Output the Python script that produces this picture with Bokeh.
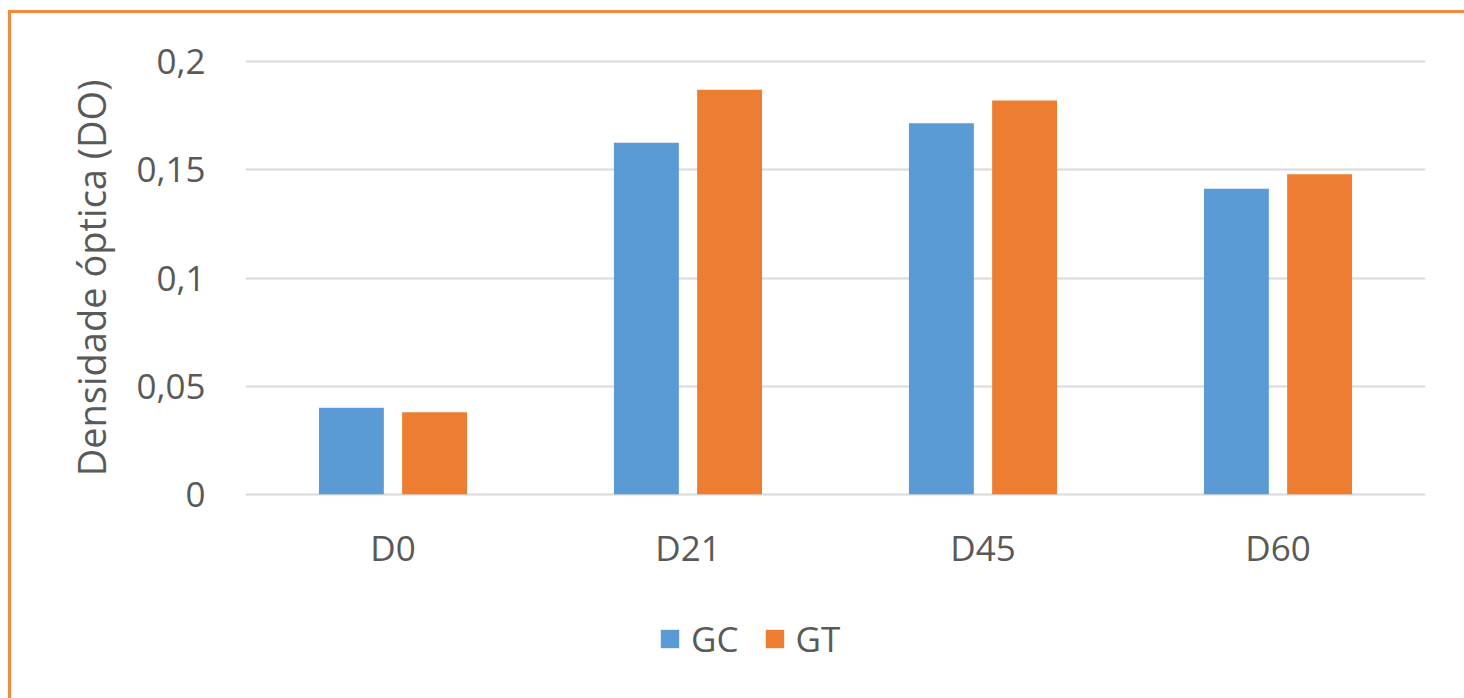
from bokeh.plotting import figure
from bokeh.layouts import column
from bokeh.models import FactorRange, Range1d, FixedTicker, CustomJSTickFormatter, ColumnDataSource, Legend, LegendItem
from bokeh.transform import dodge
from bokeh.embed import file_html
from bokeh.resources import INLINE

categories = ["D0", "D21", "D45", "D60"]
gc_values = [0.040, 0.1625, 0.1715, 0.1413]
gt_values = [0.038, 0.187, 0.182, 0.148]
y_ticks = [0, 0.05, 0.1, 0.15, 0.2]
series_names = ["GC", "GT"]

FONT = "Open Sans"
TXT = "#595959"
BLUE = "#5B9BD5"
ORANGE = "#ED7D31"

src = ColumnDataSource(dict(cat=categories, gc=gc_values, gt=gt_values))

p = figure(
    x_range=FactorRange(factors=categories, range_padding=0),
    y_range=Range1d(-0.001, 0.201),
    width=1453, height=587,
    output_backend="svg", toolbar_location=None,
    min_border_left=234, min_border_right=39, min_border_top=46, min_border_bottom=104,
)
p.outline_line_color = None
p.background_fill_color = "white"
p.border_fill_color = "white"

p.vbar(x=dodge("cat", -0.141, range=p.x_range), top="gc", width=0.22, source=src,
       fill_color=BLUE, line_color=None)
p.vbar(x=dodge("cat", 0.141, range=p.x_range), top="gt", width=0.22, source=src,
       fill_color=ORANGE, line_color=None)

p.xgrid.grid_line_color = None
p.ygrid.grid_line_color = "#D9D9D9"
p.ygrid.grid_line_width = 2

p.yaxis.ticker = FixedTicker(ticks=y_ticks)
p.yaxis.formatter = CustomJSTickFormatter(code="return tick.toString().replace('.', ',');")
for ax in (p.xaxis[0], p.yaxis[0]):
    ax.axis_line_color = None
    ax.major_tick_line_color = None
    ax.minor_tick_line_color = None
    ax.major_tick_in = 0
    ax.major_tick_out = 0
    ax.major_label_text_font = FONT
    ax.major_label_text_font_size = "35px"
    ax.major_label_text_color = TXT
p.yaxis.major_label_standoff = 40
p.xaxis.major_label_standoff = 27
p.yaxis.axis_label = "Densidade óptica (DO)"
p.yaxis.axis_label_text_font = FONT
p.yaxis.axis_label_text_font_size = "38px"
p.yaxis.axis_label_text_font_style = "normal"
p.yaxis.axis_label_text_color = TXT
p.yaxis.axis_label_standoff = 16

# legend strip below the chart (key renderers hidden; only their legend swatches show)
lg = figure(x_range=FactorRange(factors=categories), width=1453, height=98,
            output_backend="svg", toolbar_location=None,
            x_axis_type=None, y_axis_type=None,
            min_border_left=0, min_border_right=0, min_border_top=0, min_border_bottom=0)
lg.outline_line_color = None
lg.grid.grid_line_color = None
lg.border_fill_color = "white"
k1 = lg.vbar(x="cat", top="gc", width=0.2, source=src, fill_color=BLUE, line_color=None, visible=False)
k2 = lg.vbar(x="cat", top="gt", width=0.2, source=src, fill_color=ORANGE, line_color=None, visible=False)

legend = Legend(items=[LegendItem(label=series_names[0], renderers=[k1]),
                       LegendItem(label=series_names[1], renderers=[k2])],
                orientation="horizontal", location=(413, 36))
legend.label_text_font = FONT
legend.label_text_font_size = "35px"
legend.label_text_color = TXT
legend.glyph_width = 23
legend.glyph_height = 23
legend.label_standoff = 10
legend.spacing = 24
legend.padding = 0
legend.margin = 0
legend.border_line_color = None
legend.background_fill_alpha = 0
legend.inactive_fill_alpha = 0
lg.add_layout(legend, "center")

layout = column(p, lg, spacing=0,
                styles={"margin-left": "8px", "margin-top": "10px",
                        "border-left": "3px solid #F58A3C", "border-top": "3px solid #F58A3C"})

open("out.html", "w").write(file_html(layout, INLINE))
